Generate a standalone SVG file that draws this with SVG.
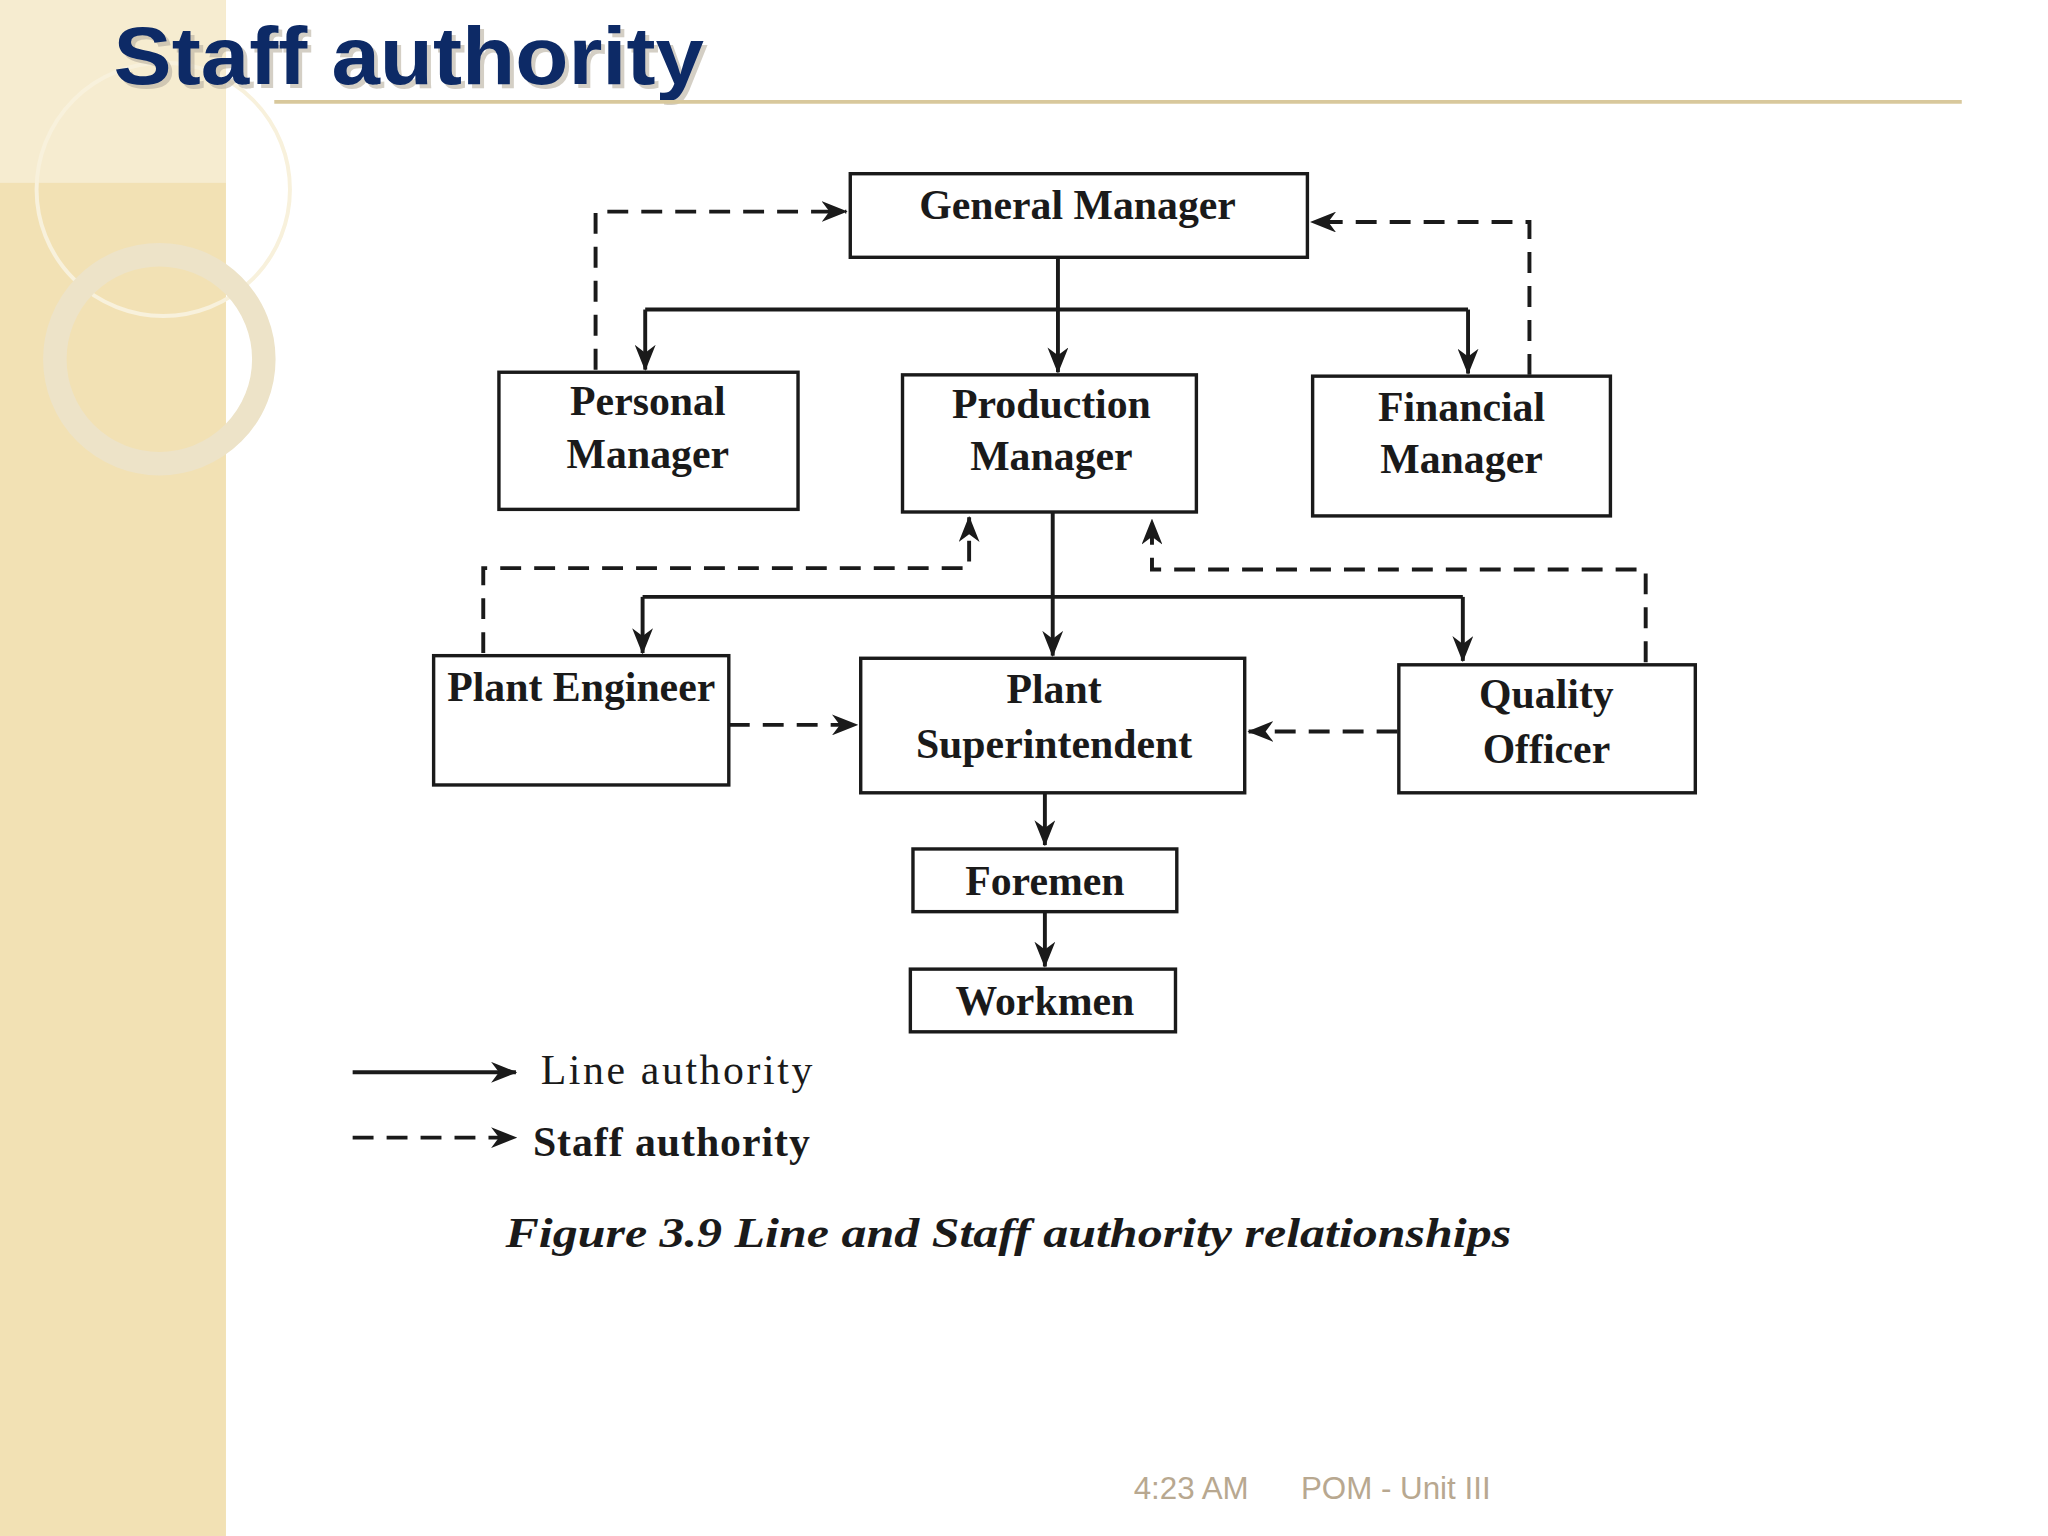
<svg xmlns="http://www.w3.org/2000/svg" width="2048" height="1536" viewBox="0 0 2048 1536">
<defs>
<style>
.b{fill:none;stroke:#1a1a1a;stroke-width:2.6}
.l{fill:none;stroke:#1a1a1a;stroke-width:3}
.d{fill:none;stroke:#1a1a1a;stroke-width:3;stroke-dasharray:16 10}
.t{font-family:"Liberation Serif",serif;font-weight:bold;font-size:32px;fill:#1a1a1a;text-anchor:middle}
</style>
<marker id="a" viewBox="0 0 20 16" refX="19" refY="8" markerWidth="20" markerHeight="16" orient="auto" markerUnits="userSpaceOnUse">
<path d="M0,0 L20,8 L0,16 L6,8 Z" fill="#1a1a1a"/>
</marker>
</defs>
<rect width="2048" height="1536" fill="#ffffff"/>
<g transform="scale(1.3061)">
<rect x="0" y="0" width="173" height="1176" fill="#f2e1b4"/>
<rect x="0" y="0" width="173" height="140" fill="#f6ecd0"/>
<circle cx="125" cy="145" r="97" fill="none" stroke="#f8f1dc" stroke-width="3"/>
<circle cx="122" cy="275" r="80" fill="none" stroke="#ede3c8" stroke-width="18"/>
<text x="90" y="67" font-family="Liberation Sans,Arial,sans-serif" font-weight="bold" font-size="62" fill="#b8b0a0" opacity="0.6" textLength="452" lengthAdjust="spacingAndGlyphs">Staff authority</text>
<text x="87" y="64" font-family="Liberation Sans,Arial,sans-serif" font-weight="bold" font-size="62" fill="#0d2a66" textLength="452" lengthAdjust="spacingAndGlyphs">Staff authority</text>
<line x1="210" y1="78" x2="1502" y2="78" stroke="#d8c89c" stroke-width="3"/>
<g id="connectors">
<path class="l" d="M810,197 V237 M494,237 H1124"/>
<path class="l" d="M494,237 V283" marker-end="url(#a)"/>
<path class="l" d="M810,237 V285" marker-end="url(#a)"/>
<path class="l" d="M1124,237 V286" marker-end="url(#a)"/>
<path class="d" d="M456,283 V162 H648" marker-end="url(#a)"/>
<path class="d" d="M1171,287 V170 H1004" marker-end="url(#a)"/>
<path class="l" d="M806,392 V457 M492,457 H1120"/>
<path class="l" d="M492,457 V500" marker-end="url(#a)"/>
<path class="l" d="M806,457 V502" marker-end="url(#a)"/>
<path class="l" d="M1120,457 V506" marker-end="url(#a)"/>
<path class="d" d="M370,500 V435 H742 V396" marker-end="url(#a)"/>
<path class="d" d="M1260,507 V436 H882 V398" marker-end="url(#a)"/>
<path class="d" d="M558,555 H656" marker-end="url(#a)"/>
<path class="d" d="M1070,560 H956" marker-end="url(#a)"/>
<path class="l" d="M800,607 V647" marker-end="url(#a)"/>
<path class="l" d="M800,698 V740" marker-end="url(#a)"/>
<path class="l" d="M270,821 H395" marker-end="url(#a)"/>
<path class="d" d="M270,871 H395" marker-end="url(#a)"/>
</g>
<g id="gm"><rect class="b" x="651" y="133" width="350" height="64"/><text class="t" x="825" y="168">General Manager</text></g>
<g id="pm"><rect class="b" x="382" y="285" width="229" height="105"/><text class="t" x="496" y="318">Personal</text><text class="t" x="496" y="358">Manager</text></g>
<g id="prm"><rect class="b" x="691" y="287" width="225" height="105"/><text class="t" x="805" y="320">Production</text><text class="t" x="805" y="360">Manager</text></g>
<g id="fm"><rect class="b" x="1005" y="288" width="228" height="107"/><text class="t" x="1119" y="322">Financial</text><text class="t" x="1119" y="362">Manager</text></g>
<g id="pe"><rect class="b" x="332" y="502" width="226" height="99"/><text class="t" x="445" y="537">Plant Engineer</text></g>
<g id="ps"><rect class="b" x="659" y="504" width="294" height="103"/><text class="t" x="807" y="538">Plant</text><text class="t" x="807" y="580">Superintendent</text></g>
<g id="qo"><rect class="b" x="1071" y="509" width="227" height="98"/><text class="t" x="1184" y="542">Quality</text><text class="t" x="1184" y="584">Officer</text></g>
<g id="fo"><rect class="b" x="699" y="650" width="202" height="48"/><text class="t" x="800" y="685">Foremen</text></g>
<g id="wo"><rect class="b" x="697" y="742" width="203" height="48"/><text class="t" x="800" y="777">Workmen</text></g>
<text x="414" y="830" font-family="Liberation Serif,serif" font-size="32" fill="#1a1a1a" textLength="208">Line authority</text>
<text x="408" y="885" font-family="Liberation Serif,serif" font-size="32" font-weight="bold" fill="#1a1a1a" textLength="212">Staff authority</text>
<text x="387" y="955" font-family="Liberation Serif,serif" font-size="33" font-weight="bold" font-style="italic" fill="#1a1a1a" textLength="770" lengthAdjust="spacingAndGlyphs">Figure 3.9 Line and Staff authority relationships</text>
<text x="868" y="1148" font-family="Liberation Sans,Arial,sans-serif" font-size="24" fill="#b8a890">4:23 AM</text>
<text x="996" y="1148" font-family="Liberation Sans,Arial,sans-serif" font-size="24" fill="#b8a890">POM - Unit III</text>
</g>
</svg>
